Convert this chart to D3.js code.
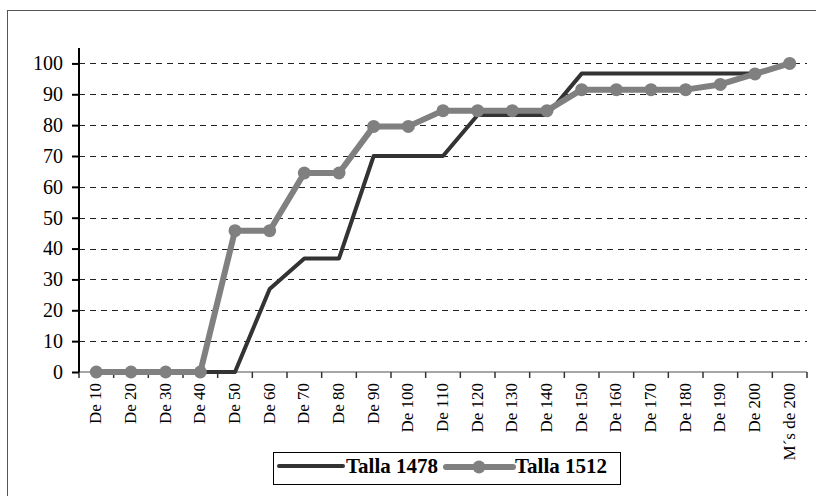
<!DOCTYPE html>
<html>
<head>
<meta charset="utf-8">
<script src="https://cdn.jsdelivr.net/npm/d3@7"></script>
<style>
body { margin: 0; background: #fff; }
svg text { font-family: "Liberation Serif", "Times New Roman", serif; }
</style>
</head>
<body>
<div id="chart"></div>
<script>
// categories along the x axis
var categories = ["De 10","De 20","De 30","De 40","De 50","De 60","De 70","De 80","De 90","De 100",
    "De 110","De 120","De 130","De 140","De 150","De 160","De 170","De 180","De 190","De 200","M´s de 200"];
var talla1478 = [0,0,0,0,0,26.9,36.8,36.8,70,70,70,83.3,83.3,83.3,96.7,96.7,96.7,96.7,96.7,96.7,100];
var talla1512 = [0,0,0,0,45.8,45.8,64.5,64.5,79.6,79.6,84.7,84.7,84.7,84.7,91.5,91.5,91.5,91.5,93.2,96.6,100];
var yTicks = [0,10,20,30,40,50,60,70,80,90,100];
var seriesNames = ["Talla 1478","Talla 1512"];

var W = 816, H = 496;
var plot = { left: 79, right: 807, top: 48, bottom: 372 };
var serif = "Liberation Serif, Times New Roman, serif";

var svg = d3.select("#chart").append("svg").attr("width", W).attr("height", H);

// outer frame (cut at right/bottom like the source)
svg.append("rect").attr("x", 7.5).attr("y", 10.5).attr("width", 830).attr("height", 500)
    .attr("fill", "none").attr("stroke", "#555").attr("stroke-width", 1);

var x = d3.scaleBand().domain(categories).range([plot.left, plot.right]).padding(0);
var y = d3.scaleLinear().domain([0, 105]).range([plot.bottom, plot.top]);
var cx = function(c) { return x(c) + x.bandwidth() / 2; };

// dashed gridlines
svg.append("g").selectAll("line").data(yTicks.filter(d => d > 0)).enter().append("line")
    .attr("x1", plot.left).attr("x2", plot.right)
    .attr("y1", d => Math.round(y(d)) + 0.5).attr("y2", d => Math.round(y(d)) + 0.5)
    .attr("stroke", "#222").attr("stroke-width", 1).attr("stroke-dasharray", "6,5");

// x axis line + ticks between categories
svg.append("line").attr("x1", plot.left).attr("x2", plot.right).attr("y1", plot.bottom).attr("y2", plot.bottom)
    .attr("stroke", "#888").attr("stroke-width", 1.5);
var tickPos = categories.map(c => x(c)).concat([plot.right]);
svg.append("g").selectAll("line").data(tickPos).enter().append("line")
    .attr("x1", d => d).attr("x2", d => d).attr("y1", plot.bottom).attr("y2", plot.bottom + 6)
    .attr("stroke", "#333").attr("stroke-width", 1.5);

// x labels, rotated
svg.append("g").selectAll("text").data(categories).enter().append("text")
    .attr("transform", d => "translate(" + (cx(d) - 1) + "," + (plot.bottom + 11) + ") rotate(-90)")
    .attr("text-anchor", "end").attr("dy", "0.35em").attr("font-family", serif)
    .attr("font-size", "17px").attr("fill", "#000").text(d => d);

// y axis
var yAxis = svg.append("g").attr("transform", "translate(" + plot.left + ",0)")
    .call(d3.axisLeft(y).tickValues(yTicks).tickSize(7).tickPadding(9).tickFormat(d3.format("d")));
yAxis.select(".domain").attr("d", "M0," + plot.top + "V" + plot.bottom).attr("stroke", "#000").attr("stroke-width", 2);
yAxis.selectAll(".tick line").attr("stroke", "#000").attr("stroke-width", 2);
yAxis.selectAll(".tick text").attr("font-size", "20px").attr("fill", "#000").attr("font-family", serif);

var line = d3.line().x((d, i) => cx(categories[i])).y(d => y(d));

// Talla 1478: dark line, no markers
svg.append("path").datum(talla1478).attr("d", line)
    .attr("fill", "none").attr("stroke", "#333").attr("stroke-width", 4).attr("stroke-linejoin", "round");

// Talla 1512: grey line with dots
svg.append("path").datum(talla1512).attr("d", line)
    .attr("fill", "none").attr("stroke", "#808080").attr("stroke-width", 6).attr("stroke-linejoin", "round");
svg.append("g").selectAll("circle").data(talla1512).enter().append("circle")
    .attr("cx", (d, i) => cx(categories[i])).attr("cy", d => y(d)).attr("r", 6.5).attr("fill", "#808080");

// legend
var lg = svg.append("g");
lg.append("rect").attr("x", 273.5).attr("y", 452.5).attr("width", 347).attr("height", 32)
    .attr("fill", "#fff").attr("stroke", "#000").attr("stroke-width", 1);
lg.append("line").attr("x1", 279).attr("x2", 343).attr("y1", 466).attr("y2", 466)
    .attr("stroke", "#333").attr("stroke-width", 4).attr("stroke-linecap", "round");
lg.append("text").attr("x", 346).attr("y", 466).attr("dy", "0.35em").attr("font-family", serif)
    .attr("font-size", "21px").attr("font-weight", "bold").text(seriesNames[0]);
lg.append("line").attr("x1", 446).attr("x2", 513).attr("y1", 467).attr("y2", 467)
    .attr("stroke", "#808080").attr("stroke-width", 6).attr("stroke-linecap", "round");
lg.append("circle").attr("cx", 479).attr("cy", 467).attr("r", 6.5).attr("fill", "#808080");
lg.append("text").attr("x", 515).attr("y", 466).attr("dy", "0.35em").attr("font-family", serif)
    .attr("font-size", "21px").attr("font-weight", "bold").text(seriesNames[1]);
</script>
</body>
</html>
